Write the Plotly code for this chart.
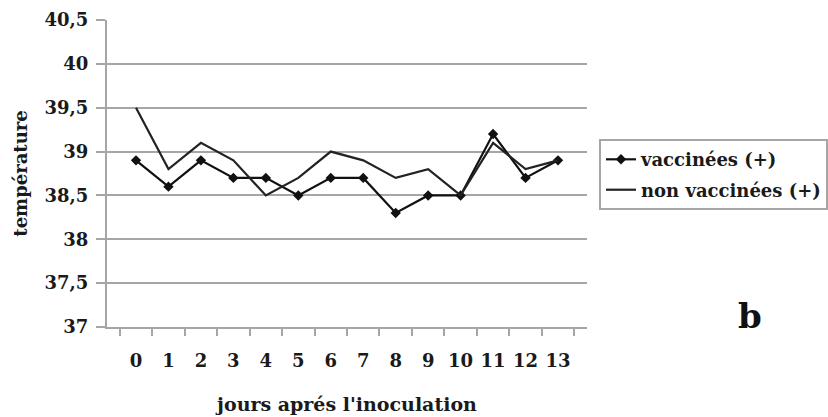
import plotly.graph_objects as go

# Daily body temperature after inoculation
jours = ["0", "1", "2", "3", "4", "5", "6", "7", "8", "9", "10", "11", "12", "13"]
vaccinees = [38.9, 38.6, 38.9, 38.7, 38.7, 38.5, 38.7, 38.7, 38.3, 38.5, 38.5, 39.2, 38.7, 38.9]
non_vaccinees = [39.5, 38.8, 39.1, 38.9, 38.5, 38.7, 39.0, 38.9, 38.7, 38.8, 38.5, 39.1, 38.8, 38.9]
y_ticks = [37, 37.5, 38, 38.5, 39, 39.5, 40, 40.5]
y_tick_text = ["37", "37,5", "38", "38,5", "39", "39,5", "40", "40,5"]

FONT = "DejaVu Serif"
GRID = "#a6a6a6"

fig = go.Figure()
fig.add_trace(go.Scatter(
    x=jours, y=vaccinees, name="vaccinées (+)", mode="lines+markers",
    line=dict(color="#111111", width=2.2),
    marker=dict(symbol="diamond", size=8, color="#111111"),
    legendgroup="a",
))
fig.add_trace(go.Scatter(
    x=jours, y=non_vaccinees, name="non vaccinées (+)", mode="lines",
    line=dict(color="#222222", width=2.2),
    legendgroup="b",
))

fig.update_layout(
    width=828, height=417,
    margin=dict(l=107, r=241, t=20, b=90, autoexpand=False),
    paper_bgcolor="white", plot_bgcolor="white",
    font=dict(family=FONT, color="#1a1a1a", size=18, weight="bold"),
    showlegend=True,
    legend=dict(
        x=1.025, y=0.612, xanchor="left", yanchor="top",
        bordercolor=GRID, borderwidth=2, bgcolor="white",
        font=dict(family=FONT, size=18, weight="bold", color="#1a1a1a"),
        tracegroupgap=4,
    ),
    annotations=[dict(
        text="b", xref="paper", yref="paper", x=1.34, y=0.035,
        xanchor="center", yanchor="middle", showarrow=False,
        font=dict(family=FONT, size=34, weight="bold", color="#111111"),
    )],
)

fig.update_xaxes(
    type="category", categoryorder="array", categoryarray=jours,
    tickson="boundaries", ticks="outside", ticklen=7, tickwidth=1.5, tickcolor=GRID,
    showline=True, linecolor=GRID, linewidth=2, showgrid=False,
    tickangle=0, ticklabelstandoff=16,
    tickfont=dict(family=FONT, size=18, weight="bold"),
    title=dict(text="jours aprés l'inoculation", standoff=28,
               font=dict(family=FONT, size=19, weight="bold")),
)
fig.update_yaxes(
    range=[37, 40.5], tickvals=y_ticks, ticktext=y_tick_text,
    ticks="outside", ticklen=9, tickwidth=1.5, tickcolor=GRID,
    showline=True, linecolor=GRID, linewidth=2,
    showgrid=True, gridcolor=GRID, gridwidth=2, zeroline=False,
    ticklabelstandoff=4,
    tickfont=dict(family=FONT, size=18, weight="bold"),
    title=dict(text="température", standoff=12,
               font=dict(family=FONT, size=18, weight="bold")),
)

fig.write_html("out.html")
